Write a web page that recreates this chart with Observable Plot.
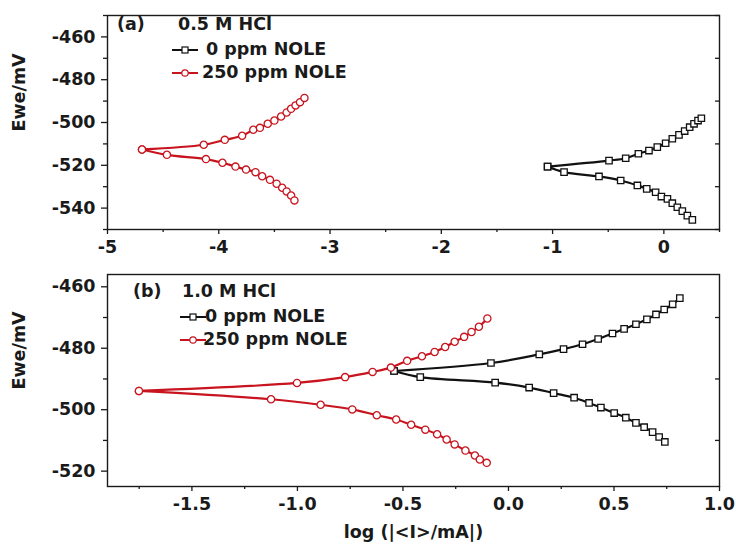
<!DOCTYPE html>
<html>
<head>
<meta charset="utf-8">
<script src="https://cdn.jsdelivr.net/npm/d3@7"></script>
<script src="https://cdn.jsdelivr.net/npm/@observablehq/plot@0.6"></script>
<style>
  html, body { margin: 0; padding: 0; background: #fff; }
  #wrap { position: relative; width: 736px; height: 547px; overflow: hidden; background: #fff; }
  #wrap > svg, #wrap > figure { position: absolute; left: 0; margin: 0; }
  #legend { position: absolute; left: 0; top: 0; pointer-events: none; }
  #legend text { font-family: "DejaVu Sans", sans-serif; font-weight: bold; font-size: 17.5px; fill: #1a1a1a; dominant-baseline: middle; }
</style>
</head>
<body>
<div id="wrap"></div>
<script>
// ---------- Panel (a): 0.5 M HCl ----------
const aTicksX = [-5, -4, -3, -2, -1, 0];
const aMinorX = [-4.5, -3.5, -2.5, -1.5, -0.5, 0.5];
const aTicksY = [-460, -480, -500, -520, -540];
const aMinorY = [-450, -470, -490, -510, -530, -550];

// 0 ppm NOLE (black squares)
const aBlackUpX = [-1.045, -0.493, -0.343, -0.229, -0.134, -0.059, 0.016, 0.076, 0.136, 0.187, 0.232, 0.271, 0.307, 0.337];
const aBlackUpY = [-520.6, -517.8, -516.7, -514.6, -513.1, -511.5, -509.7, -507.6, -505.8, -504.0, -502.2, -500.6, -499.1, -498.0];
const aBlackLoX = [-1.045, -0.897, -0.583, -0.388, -0.238, -0.154, -0.074, -0.022, 0.032, 0.076, 0.121, 0.166, 0.211, 0.256];
const aBlackLoY = [-520.6, -523.2, -525.2, -527.1, -529.4, -531.0, -532.6, -534.6, -535.7, -537.7, -539.6, -541.4, -543.5, -545.5];
// 250 ppm NOLE (red circles)
const aRedUpX = [-4.69, -4.135, -3.946, -3.79, -3.69, -3.63, -3.56, -3.50, -3.44, -3.39, -3.35, -3.31, -3.27, -3.23];
const aRedUpY = [-512.6, -510.4, -508.1, -506.2, -503.4, -502.5, -500.6, -499.1, -497.2, -495.3, -493.6, -492.0, -490.5, -488.5];
const aRedLoX = [-4.69, -4.466, -4.115, -3.967, -3.85, -3.755, -3.67, -3.61, -3.54, -3.48, -3.43, -3.39, -3.35, -3.32];
const aRedLoY = [-512.6, -515.1, -517.1, -518.8, -520.6, -522.0, -523.2, -525.1, -526.8, -528.6, -530.5, -532.2, -534.1, -536.4];

// ---------- Panel (b): 1.0 M HCl ----------
const bTicksX = [-1.5, -1.0, -0.5, 0.0, 0.5, 1.0];
const bMinorX = [-1.75, -1.25, -0.75, -0.25, 0.25, 0.75];
const bTicksY = [-460, -480, -500, -520];
const bMinorY = [-470, -490, -510];

const bBlackUpX = [-0.542, -0.083, 0.146, 0.261, 0.351, 0.425, 0.493, 0.548, 0.604, 0.656, 0.699, 0.738, 0.778, 0.812];
const bBlackUpY = [-487.4, -484.8, -482.0, -480.3, -478.7, -477.0, -475.2, -473.7, -472.2, -470.6, -469.0, -467.4, -465.7, -463.7];
const bBlackLoX = [-0.542, -0.418, -0.063, 0.098, 0.214, 0.311, 0.382, 0.438, 0.501, 0.556, 0.604, 0.643, 0.683, 0.714, 0.741];
const bBlackLoY = [-487.4, -489.4, -491.2, -492.8, -494.6, -496.1, -497.8, -499.3, -501.1, -502.6, -504.3, -505.7, -507.3, -508.9, -510.5];
const bRedUpX = [-1.751, -1.002, -0.774, -0.644, -0.557, -0.48, -0.41, -0.35, -0.30, -0.255, -0.21, -0.175, -0.14, -0.10];
const bRedUpY = [-493.9, -491.3, -489.4, -487.7, -486.3, -484.1, -482.6, -481.2, -479.6, -477.9, -476.3, -474.7, -473.0, -470.3];
const bRedLoX = [-1.751, -1.125, -0.89, -0.74, -0.624, -0.532, -0.461, -0.394, -0.338, -0.293, -0.255, -0.204, -0.159, -0.136, -0.103];
const bRedLoY = [-493.9, -496.6, -498.4, -499.9, -501.8, -503.2, -504.9, -506.5, -508.0, -509.7, -511.3, -513.3, -514.9, -516.2, -517.3];

const seriesNames = ["0 ppm NOLE", "250 ppm NOLE"];
const BLACK = "#111111";
const RED = "#c8141e";

function rows(xs, ys, series, branch) {
  return xs.map((x, i) => ({x, y: ys[i], series, branch: series + branch}));
}

const dataA = [
  ...rows(aBlackUpX, aBlackUpY, seriesNames[0], "up"),
  ...rows(aBlackLoX, aBlackLoY, seriesNames[0], "lo"),
  ...rows(aRedUpX, aRedUpY, seriesNames[1], "up"),
  ...rows(aRedLoX, aRedLoY, seriesNames[1], "lo")
];
const dataB = [
  ...rows(bBlackUpX, bBlackUpY, seriesNames[0], "up"),
  ...rows(bBlackLoX, bBlackLoY, seriesNames[0], "lo"),
  ...rows(bRedUpX, bRedUpY, seriesNames[1], "up"),
  ...rows(bRedLoX, bRedLoY, seriesNames[1], "lo")
];

const hy = s => String(s).replace("\u2212", "-");
const fmtInt = d => hy(d3.format("d")(d));
const fmt1 = d => hy(d3.format(".1f")(d));

function panel({data, height, mt, mb, xDomain, yDomain, ticksX, minorX, ticksY, minorY, fmtX, xLabel}) {
  const marks = [
    Plot.axisX(ticksX, {tickSize: 5, tickPadding: 6, tickFormat: fmtX, fontSize: 17.5, fontWeight: "bold", strokeWidth: 1.3}),
    Plot.axisX(minorX, {tickSize: 3, tickFormat: () => "", strokeWidth: 1.3}),
    Plot.axisY(ticksY, {tickSize: 6, tickPadding: 6, tickFormat: fmtInt, fontSize: 17.5, fontWeight: "bold", strokeWidth: 1.3}),
    Plot.axisY(minorY, {tickSize: 4, tickFormat: () => "", strokeWidth: 1.3}),
    Plot.axisY(minorY, {anchor: "right", tickSize: 5, dx: -5, tickFormat: () => "", strokeWidth: 1.3}),
    Plot.frame({stroke: "#1a1a1a", strokeWidth: 1.4}),
    Plot.line(data, {x: "x", y: "y", z: "branch", stroke: "series", strokeWidth: 2.2, curve: "catmull-rom"}),
    Plot.dot(data, {x: "x", y: "y", symbol: "series", stroke: "series", fill: "white", r: 3.6, strokeWidth: 1.3}),
    Plot.text(["Ewe/mV"], {frameAnchor: "left", text: d => d, rotate: -90, dx: -88, dy: 9, fontSize: 17.5, fontWeight: "bold", fill: "#1a1a1a"})
  ];
  if (xLabel) {
    marks.push(Plot.text([xLabel], {frameAnchor: "bottom", text: d => d, dy: 51, fontSize: 17.5, fontWeight: "bold", fill: "#1a1a1a"}));
  }
  return Plot.plot({
    width: 736,
    height,
    marginTop: mt,
    marginBottom: mb,
    marginLeft: 107,
    marginRight: 17,
    style: {fontFamily: "DejaVu Sans, sans-serif", color: "#1a1a1a", background: "transparent", overflow: "visible"},
    x: {domain: xDomain, label: null},
    y: {domain: yDomain, label: null},
    color: {domain: seriesNames, range: [BLACK, RED]},
    symbol: {domain: seriesNames, range: ["square", "circle"]},
    marks
  });
}

const wrap = document.getElementById("wrap");

const svgA = panel({
  data: dataA, height: 260, mt: 15, mb: 31,
  xDomain: [-5, 0.5], yDomain: [-550, -450],
  ticksX: aTicksX, minorX: aMinorX, ticksY: aTicksY, minorY: aMinorY,
  fmtX: fmtInt, xLabel: null
});
svgA.style.top = "0px";
wrap.appendChild(svgA);

const svgB = panel({
  data: dataB, height: 287, mt: 14, mb: 61,
  xDomain: [-1.9, 1.0], yDomain: [-525, -456],
  ticksX: bTicksX, minorX: bMinorX, ticksY: bTicksY, minorY: bMinorY,
  fmtX: fmt1, xLabel: "log (|<I>/mA|)"
});
svgB.style.top = "260px";
wrap.appendChild(svgB);

// ---------- in-plot legends ----------
const legends = [
  {tag: "(a)", title: "0.5 M HCl", tagX: 117, titleX: 178, y0: 25, swX: 172, txX: [206, 202], rows: [50, 73]},
  {tag: "(b)", title: "1.0 M HCl", tagX: 133, titleX: 182, y0: 292, swX: 180, txX: [205, 203], rows: [317, 340]}
];
const ns = "http://www.w3.org/2000/svg";
const lg = document.createElementNS(ns, "svg");
lg.setAttribute("id", "legend");
lg.setAttribute("width", 736);
lg.setAttribute("height", 547);
function el(name, attrs, text) {
  const e = document.createElementNS(ns, name);
  for (const k in attrs) e.setAttribute(k, attrs[k]);
  if (text != null) e.textContent = text;
  lg.appendChild(e);
  return e;
}
const colors = [BLACK, RED];
for (const L of legends) {
  el("text", {x: L.tagX, y: L.y0}, L.tag);
  el("text", {x: L.titleX, y: L.y0}, L.title);
  seriesNames.forEach((name, i) => {
    const yy = L.rows[i];
    el("line", {x1: L.swX, x2: L.swX + 26, y1: yy, y2: yy, stroke: colors[i], "stroke-width": 2});
    if (i === 0) {
      el("rect", {x: L.swX + 10, y: yy - 3, width: 6, height: 6, fill: "white", stroke: colors[i], "stroke-width": 1.2});
    } else {
      el("circle", {cx: L.swX + 13, cy: yy, r: 3.2, fill: "white", stroke: colors[i], "stroke-width": 1.2});
    }
    el("text", {x: L.txX[i], y: yy}, name);
  });
}
wrap.appendChild(lg);
</script>
</body>
</html>
